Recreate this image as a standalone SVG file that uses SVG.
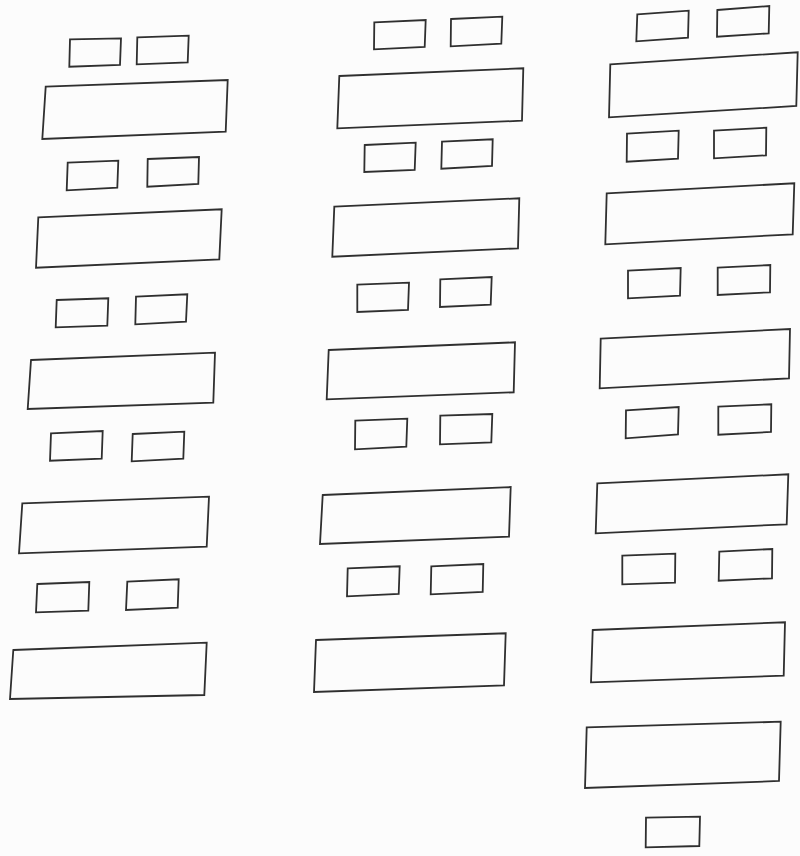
<svg xmlns="http://www.w3.org/2000/svg" width="800" height="856" viewBox="0 0 800 856">
<style>
.b{fill:none;stroke:#2f2f2f;stroke-width:1.8;stroke-linejoin:miter}
</style>
<rect width="800" height="856" fill="#fcfcfc"/>
<g id="col1">
<g id="c1s1a"><polygon class="b" points="70,39.3 121,38.3 120,65 69.3,66.7"/></g>
<g id="c1s1b"><polygon class="b" points="137.3,37.3 188.7,35.7 187.7,62.3 136.7,64.3"/></g>
<g id="c1b1"><polygon class="b" points="45.7,86.7 227.7,80 225.7,131.7 42.3,139"/></g>
<g id="c1s2a"><polygon class="b" points="67.7,162.7 118.3,160.7 117.3,187.7 66.7,190.3"/></g>
<g id="c1s2b"><polygon class="b" points="147.7,159 199,157 198.3,184 147.3,186.7"/></g>
<g id="c1b2"><polygon class="b" points="38.3,217.3 221.7,209.3 219.3,259.3 36,267.7"/></g>
<g id="c1s3a"><polygon class="b" points="56.7,300 108.3,298.3 107.3,325.7 55.7,327.3"/></g>
<g id="c1s3b"><polygon class="b" points="136,296.7 187.3,294.3 186,321.7 135.3,324.3"/></g>
<g id="c1b3"><polygon class="b" points="31,360 215,352.7 213.3,402.7 27.7,409"/></g>
<g id="c1s4a"><polygon class="b" points="51,433.3 102.7,431 101.7,458.7 50,460.7"/></g>
<g id="c1s4b"><polygon class="b" points="132.7,434 184.3,431.7 183.3,458.7 131.7,461.3"/></g>
<g id="c1b4"><polygon class="b" points="22.3,503.3 209,496.7 206.7,546.7 19,553.3"/></g>
<g id="c1s5a"><polygon class="b" points="37.3,584 89.3,582 88.3,610.7 36,612.3"/></g>
<g id="c1s5b"><polygon class="b" points="127.3,581.7 178.7,579.3 177.7,607.7 126,610"/></g>
<g id="c1b5"><polygon class="b" points="13.3,650 206.7,642.7 204.3,695 10,699"/></g>
</g>
<g id="col2">
<g id="c2s1a"><polygon class="b" points="374.3,22.3 425.7,20 424.7,47 374,49.3"/></g>
<g id="c2s1b"><polygon class="b" points="451,19 502.3,16.7 501.3,43.7 450.7,46.3"/></g>
<g id="c2b1"><polygon class="b" points="339.3,76 523.3,68.3 522,120.7 337.3,128.3"/></g>
<g id="c2s2a"><polygon class="b" points="364.7,145 415.7,142.7 414.7,170 364.3,172"/></g>
<g id="c2s2b"><polygon class="b" points="442,141.7 492.7,139.3 492,166 441.3,168.7"/></g>
<g id="c2b2"><polygon class="b" points="334.3,206.7 519.3,198.3 518,248.3 332.3,256.7"/></g>
<g id="c2s3a"><polygon class="b" points="357.3,284.7 409,282.7 408,310 357.3,312"/></g>
<g id="c2s3b"><polygon class="b" points="440.3,279.3 491.7,277 490.7,304.7 440,307"/></g>
<g id="c2b3"><polygon class="b" points="328.7,350 515,342.3 513.7,392.3 326.7,399.3"/></g>
<g id="c2s4a"><polygon class="b" points="355.3,420.7 407.3,418.7 406.3,446.7 355,449.3"/></g>
<g id="c2s4b"><polygon class="b" points="440.3,415.7 492.3,414 491.3,442.3 440,444.3"/></g>
<g id="c2b4"><polygon class="b" points="322.7,495 510.7,487 509,536.7 320,544"/></g>
<g id="c2s5a"><polygon class="b" points="347.7,568.3 399.7,566.3 398.7,594 347,596.3"/></g>
<g id="c2s5b"><polygon class="b" points="431.3,566.3 483.3,564 482.7,592 430.7,594.3"/></g>
<g id="c2b5"><polygon class="b" points="316,640 505.7,633.3 504,685.3 314,692"/></g>
</g>
<g id="col3">
<g id="c3s1a"><polygon class="b" points="637.3,14.3 688.7,10.7 688,37.7 636.3,41.3"/></g>
<g id="c3s1b"><polygon class="b" points="717.3,10 769.3,6 768.7,33.3 717,36.7"/></g>
<g id="c3b1"><polygon class="b" points="610.3,64.3 797.7,52.3 796.3,106 609,117.3"/></g>
<g id="c3s2a"><polygon class="b" points="627,133.7 678.7,130.7 678,158.7 626.7,161.7"/></g>
<g id="c3s2b"><polygon class="b" points="714,130.7 766.3,127.7 766,155.3 714,158.3"/></g>
<g id="c3b2"><polygon class="b" points="606.7,193.3 794.3,183.3 792.7,234.3 605.3,244.3"/></g>
<g id="c3s3a"><polygon class="b" points="628,270.7 680.7,268 680,295.7 628,298.3"/></g>
<g id="c3s3b"><polygon class="b" points="717.7,267.7 770.3,265 770,292.3 717.7,295"/></g>
<g id="c3b3"><polygon class="b" points="600.7,338.7 790,329 789,378.3 599.7,388.3"/></g>
<g id="c3s4a"><polygon class="b" points="626,410.3 678.7,407 678,434.3 625.7,438.3"/></g>
<g id="c3s4b"><polygon class="b" points="718.3,406.7 771.3,404.3 771,432 718.3,434.7"/></g>
<g id="c3b4"><polygon class="b" points="597.3,483.3 788.3,474.3 786.7,524.3 595.7,533.3"/></g>
<g id="c3s5a"><polygon class="b" points="622.3,555.7 675.3,553.7 675,582.7 622.3,584.3"/></g>
<g id="c3s5b"><polygon class="b" points="719.3,551.7 772.3,549 772,578.3 718.7,580.7"/></g>
<g id="c3b5"><polygon class="b" points="592.7,630 785,622.3 783.7,675.7 591,682.3"/></g>
<g id="c3b6"><polygon class="b" points="586.7,727.3 780.7,721.7 779,781 585,788"/></g>
<g id="c3s6"><polygon class="b" points="646,817.7 700,816.7 699.3,846 645.7,847.3"/></g>
</g>
</svg>
